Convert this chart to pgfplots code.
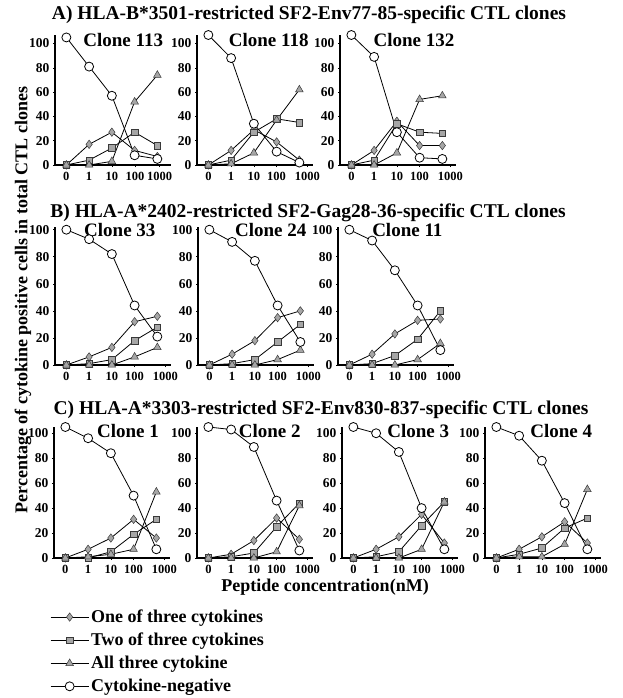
\documentclass[border=0pt]{standalone}
\usepackage{fontspec}
\setmainfont{Liberation Serif}
\usepackage{pgfplots}
\pgfplotsset{compat=1.18}

\pgfplotsset{
  panel/.style={
    scale only axis, width=116pt, xmin=-0.5, xmax=4.6, ymin=0,
    axis x line=bottom, axis y line=left,
    axis line style={-, line width=1.4pt},
    xtick={0,1,2,3,4.35}, xticklabels={0,1,10,100,1000},
    ytick={0,20,40,60,80,100},
    tick align=outside, major tick length=2pt,
    tick style={black, line width=0.6pt},
    yticklabel style={font=\fontsize{13.5}{13.5}\selectfont\bfseries},
    xticklabel style={font=\fontsize{12.5}{12.5}\selectfont\bfseries, yshift=-1.5pt},
    /pgf/number format/assume math mode=true,
    clip=false, anchor=south west,
  },
  rowA/.style={panel, height=130pt, ymax=107},
  rowB/.style={panel, height=138pt, ymax=102},
  rowC/.style={panel, height=131pt, ymax=105},
  one/.style={black, line width=0.8pt, mark=diamond*, mark size=4.2pt,
    mark options={solid, fill=gray!70, draw=gray!45!black, line width=0.5pt}},
  two/.style={black, line width=0.8pt, mark=square*, mark size=3.3pt,
    mark options={solid, fill=gray!70, draw=gray!45!black, line width=0.5pt}},
  three/.style={black, line width=0.8pt, mark=triangle*, mark size=4.4pt,
    mark options={solid, fill=gray!70, draw=gray!45!black, line width=0.5pt}},
  neg/.style={black, line width=0.8pt, mark=*, mark size=4.5pt,
    mark options={solid, fill=white, draw=black, line width=0.8pt}},
}

\begin{document}
\begin{tikzpicture}
\useasboundingbox (0,0) rectangle (622pt,-698pt);

% titles
\node[font=\fontsize{19.5}{20}\selectfont\bfseries] at (309pt,-15pt) {A) HLA-B*3501-restricted SF2-Env77-85-specific CTL clones};
\node[font=\fontsize{19.5}{20}\selectfont\bfseries] at (308pt,-213pt) {B) HLA-A*2402-restricted SF2-Gag28-36-specific CTL clones};
\node[font=\fontsize{19.5}{20}\selectfont\bfseries] at (321pt,-410pt) {C) HLA-A*3303-restricted SF2-Env830-837-specific CTL clones};
\node[font=\fontsize{18}{18}\selectfont\bfseries, rotate=90] at (23pt,-300pt) {Percentage of cytokine positive cells in total CTL clones};
\node[font=\fontsize{18}{18}\selectfont\bfseries] at (325pt,-587pt) {Peptide concentration(nM)};

% row A
\begin{axis}[rowA, at={(55pt,-165pt)}, xtick={0,1,2,3.02,4.1}]
\addplot[one] coordinates {(0,0)(1,17)(2,27)(3,12)(4,7)};
\addplot[two] coordinates {(0,0)(1,4)(2,14)(3,27)(4,16)};
\addplot[three] coordinates {(0,0)(1,0)(2,3)(3,52)(4,74)};
\addplot[neg] coordinates {(0,105)(1,81)(2,57)(3,8)(4,5)};
\node[font=\fontsize{19}{19}\selectfont\bfseries] at (axis cs:2.5,103) {Clone 113};
\end{axis}

\begin{axis}[rowA, at={(197pt,-165pt)}]
\addplot[one] coordinates {(0,0)(1,12)(2,29)(3,19)(4,4)};
\addplot[two] coordinates {(0,0)(1,4)(2,27)(3,38)(4,35)};
\addplot[three] coordinates {(0,0)(1,1)(2,10)(3,37)(4,62)};
\addplot[neg] coordinates {(0,107)(1,88)(2,34)(3,11)(4,2)};
\node[font=\fontsize{19}{19}\selectfont\bfseries] at (axis cs:2.65,103) {Clone 118};
\end{axis}

\begin{axis}[rowA, at={(340pt,-165pt)}]
\addplot[one] coordinates {(0,0)(1,12)(2,36)(3,16)(4,16)};
\addplot[two] coordinates {(0,0)(1,4)(2,34)(3,27)(4,26)};
\addplot[three] coordinates {(0,0)(1,0)(2,10)(3,54)(4,57)};
\addplot[neg] coordinates {(0,107)(1,89)(2,27)(3,6)(4,5)};
\node[font=\fontsize{19}{19}\selectfont\bfseries] at (axis cs:2.75,103) {Clone 132};
\end{axis}

% row B
\begin{axis}[rowB, at={(55pt,-365pt)}]
\addplot[one] coordinates {(0,0)(1,6)(2,13)(3,32)(4,36)};
\addplot[two] coordinates {(0,0)(1,1)(2,4)(3,18)(4,28)};
\addplot[three] coordinates {(0,0)(1,0)(2,0)(3,6)(4,13)};
\addplot[neg] coordinates {(0,100)(1,93)(2,82)(3,44)(4,21)};
\node[font=\fontsize{19}{19}\selectfont\bfseries] at (axis cs:2.35,100) {Clone 33};
\end{axis}

\begin{axis}[rowB, at={(198pt,-365pt)}]
\addplot[one] coordinates {(0,0)(1,8)(2,18)(3,35)(4,40)};
\addplot[two] coordinates {(0,0)(1,1)(2,4)(3,17)(4,30)};
\addplot[three] coordinates {(0,0)(1,0)(2,0)(3,4)(4,11)};
\addplot[neg] coordinates {(0,100)(1,91)(2,77)(3,44)(4,17)};
\node[font=\fontsize{19}{19}\selectfont\bfseries] at (axis cs:2.7,100) {Clone 24};
\end{axis}

\begin{axis}[rowB, at={(338pt,-365pt)}]
\addplot[one] coordinates {(0,0)(1,8)(2,23)(3,33)(4,34)};
\addplot[two] coordinates {(0,0)(1,1)(2,7)(3,19)(4,40)};
\addplot[three] coordinates {(0,0)(1,0)(2,0)(3,4)(4,16)};
\addplot[neg] coordinates {(0,100)(1,92)(2,70)(3,44)(4,11)};
\node[font=\fontsize{19}{19}\selectfont\bfseries] at (axis cs:2.55,100) {Clone 11};
\end{axis}

% row C
\begin{axis}[rowC, at={(54pt,-558pt)},
  legend style={at={(axis description cs:-0.034,-0.38)}, anchor=north west,
    draw=none, fill=none, font=\fontsize{18}{18}\selectfont\bfseries,
    row sep=5pt, inner sep=0pt},
  legend cell align=left,
  legend image code/.code={\draw[mark repeat=2, mark phase=2] plot coordinates {(0pt,0pt)(19pt,0pt)(38pt,0pt)};}]
\addplot[one] coordinates {(0,0)(1,7)(2,16)(3,31)(4,16)};
\addlegendentry{One of three cytokines}
\addplot[two] coordinates {(0,0)(1,0)(2,5)(3,19)(4,31)};
\addlegendentry{Two of three cytokines}
\addplot[three] coordinates {(0,0)(1,1)(2,3)(3,7)(4,53)};
\addlegendentry{All three cytokine}
\addplot[neg] coordinates {(0,105)(1,96)(2,84)(3,50)(4,7)};
\addlegendentry{Cytokine-negative}
\node[font=\fontsize{19}{19}\selectfont\bfseries] at (axis cs:2.75,102) {Clone 1};
\end{axis}

\begin{axis}[rowC, at={(197pt,-558pt)}]
\addplot[one] coordinates {(0,0)(1,3)(2,14)(3,32)(4,15)};
\addplot[two] coordinates {(0,0)(1,1)(2,4)(3,25)(4,44)};
\addplot[three] coordinates {(0,0)(1,0)(2,0)(3,5)(4,42)};
\addplot[neg] coordinates {(0,105)(1,103)(2,89)(3,46)(4,6)};
\node[font=\fontsize{19}{19}\selectfont\bfseries] at (axis cs:2.7,102) {Clone 2};
\end{axis}

\begin{axis}[rowC, at={(342pt,-558pt)}]
\addplot[one] coordinates {(0,0)(1,7)(2,17)(3,35)(4,12)};
\addplot[two] coordinates {(0,0)(1,1)(2,5)(3,26)(4,45)};
\addplot[three] coordinates {(0,0)(1,0)(2,0)(3,7)(4,45)};
\addplot[neg] coordinates {(0,105)(1,100)(2,85)(3,40)(4,7)};
\node[font=\fontsize{19}{19}\selectfont\bfseries] at (axis cs:2.85,102) {Clone 3};
\end{axis}

\begin{axis}[rowC, at={(485pt,-558pt)}]
\addplot[one] coordinates {(0,0)(1,7)(2,17)(3,29)(4,12)};
\addplot[two] coordinates {(0,0)(1,3)(2,8)(3,24)(4,32)};
\addplot[three] coordinates {(0,0)(1,1)(2,1)(3,11)(4,55)};
\addplot[neg] coordinates {(0,105)(1,98)(2,78)(3,44)(4,7)};
\node[font=\fontsize{19}{19}\selectfont\bfseries] at (axis cs:2.85,102) {Clone 4};
\end{axis}
\end{tikzpicture}
\end{document}
